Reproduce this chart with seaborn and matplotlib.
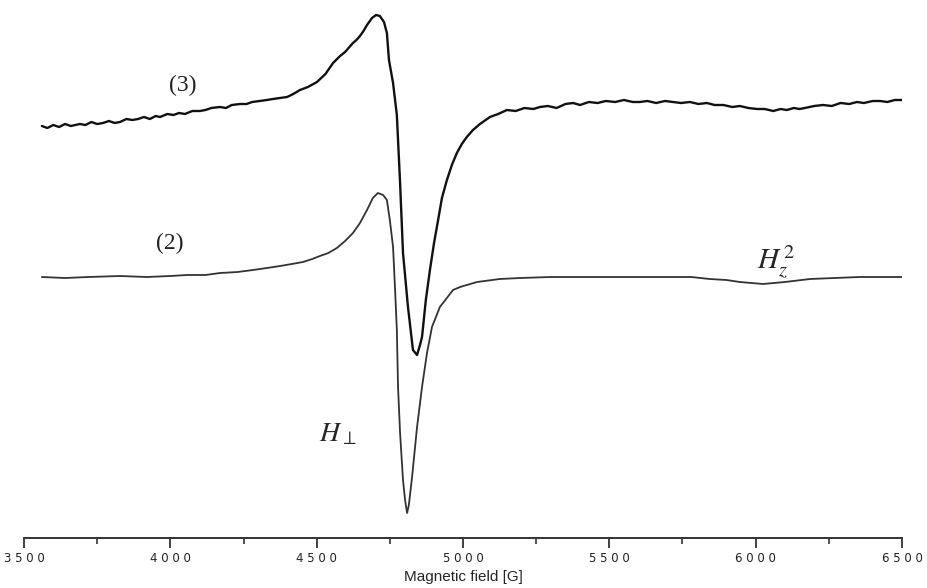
import matplotlib
matplotlib.use('Agg')
import matplotlib.pyplot as plt
import numpy as np
import pandas as pd
import seaborn as sns

# Field values [G] and signal (arbitrary units)
field_3 = [3561, 3580, 3600, 3620, 3640, 3660, 3691, 3710, 3730, 3750, 3770, 3790,
           3810, 3828, 3850, 3870, 3890, 3910, 3930, 3950, 3965, 3990, 4010, 4030,
           4050, 4075, 4101, 4120, 4140, 4170, 4190, 4210, 4238, 4260, 4280, 4306,
           4330, 4350, 4375, 4399, 4420, 4443, 4470, 4501, 4530, 4556, 4580, 4597,
           4612, 4624, 4636, 4648, 4660, 4672, 4689, 4703, 4716, 4730, 4740, 4747,
           4761, 4774, 4785, 4795, 4812, 4829, 4843, 4853, 4860, 4873, 4887, 4901,
           4915, 4928, 4945, 4962, 4979, 4996, 5013, 5034, 5058, 5092, 5120, 5150,
           5180, 5210, 5240, 5263, 5290, 5320, 5350, 5376, 5400, 5430, 5460, 5488,
           5520, 5550, 5580, 5604, 5630, 5660, 5690, 5717, 5745, 5775, 5805, 5833,
           5860, 5890, 5920, 5946, 5975, 6005, 6031, 6060, 6085, 6107, 6130, 6150,
           6168, 6200, 6230, 6260, 6290, 6320, 6346, 6370, 6400, 6425, 6450, 6475,
           6500]
signal_3 = [41.2, 41.0, 41.3, 41.1, 41.4, 41.2, 41.4, 41.3, 41.6, 41.4, 41.5, 41.7,
            41.5, 41.6, 41.9, 41.8, 41.9, 42.1, 41.9, 42.2, 42.1, 42.4, 42.3, 42.5,
            42.4, 42.7, 42.7, 42.8, 43.0, 43.1, 43.0, 43.3, 43.4, 43.4, 43.6, 43.7,
            43.8, 43.9, 44.0, 44.1, 44.4, 44.8, 45.1, 45.6, 46.4, 47.5, 48.2, 48.6,
            49.1, 49.5, 49.8, 50.2, 50.7, 51.3, 52.0, 52.3, 52.2, 51.6, 50.5, 47.8,
            45.5, 42.3, 35.5, 28.5, 23.1, 18.8, 18.3, 19.3, 20.1, 23.8, 26.8, 29.5,
            31.8, 34.0, 35.8, 37.3, 38.5, 39.4, 40.1, 40.8, 41.4, 42.1, 42.4, 42.8,
            42.7, 43.0, 42.9, 43.1, 43.2, 43.0, 43.4, 43.5, 43.3, 43.6, 43.5, 43.7,
            43.6, 43.8, 43.6, 43.6, 43.7, 43.5, 43.7, 43.6, 43.5, 43.6, 43.4, 43.5,
            43.3, 43.3, 43.1, 43.2, 43.0, 42.9, 42.9, 42.7, 42.9, 42.8, 43.0, 42.9,
            43.0, 43.2, 43.3, 43.2, 43.5, 43.4, 43.6, 43.5, 43.7, 43.7, 43.6, 43.8,
            43.8]

field_2 = [3561, 3640, 3720, 3828, 3920, 4000, 4057, 4120, 4170, 4230, 4282, 4330,
           4375, 4415, 4453, 4485, 4511, 4540, 4569, 4597, 4624, 4648, 4672, 4692,
           4709, 4727, 4740, 4750, 4761, 4768, 4774, 4778, 4785, 4795, 4802, 4809,
           4815, 4826, 4843, 4860, 4877, 4894, 4921, 4966, 4990, 5048, 5126, 5195,
           5300, 5400, 5500, 5600, 5700, 5780, 5843, 5900, 5946, 6025, 6100, 6186,
           6270, 6356, 6430, 6500]
signal_2 = [26.1, 26.0, 26.1, 26.2, 26.1, 26.2, 26.3, 26.3, 26.5, 26.6, 26.8, 27.0,
            27.2, 27.4, 27.6, 27.9, 28.2, 28.5, 29.0, 29.7, 30.5, 31.5, 32.8, 34.0,
            34.5, 34.3, 33.8, 31.8, 29.1, 24.8, 20.8, 15.1, 10.5, 5.8, 3.8, 2.5,
            3.3, 6.1, 11.1, 15.1, 18.5, 21.1, 23.1, 24.8, 25.1, 25.6, 25.9, 26.0,
            26.1, 26.1, 26.1, 26.1, 26.1, 26.1, 25.9, 25.8, 25.6, 25.4, 25.6, 25.9,
            26.0, 26.1, 26.1, 26.1]

tick_values = [3500, 4000, 4500, 5000, 5500, 6000, 6500]

df3 = pd.DataFrame({'field': field_3, 'signal': signal_3})
df2 = pd.DataFrame({'field': field_2, 'signal': signal_2})

sns.set_theme(style='white')
plt.rcParams['font.family'] = ['DejaVu Sans']
plt.rcParams['mathtext.fontset'] = 'stix'

fig = plt.figure(figsize=(9.27, 5.88), dpi=100)
ax = fig.add_axes([24 / 927, 1 - 538 / 588, 878 / 927, 538 / 588])

sns.lineplot(data=df3, x='field', y='signal', ax=ax, color='#111111',
             linewidth=1.7, estimator=None, sort=False)
sns.lineplot(data=df2, x='field', y='signal', ax=ax, color='#333333',
             linewidth=1.3, estimator=None, sort=False)

ax.set_xlim(3500, 6500)
ax.set_ylim(0, 53.8)

# Spectrum labels
ax.text(4043, 45.3, '(3)', fontsize=17, family='Liberation Serif',
        ha='center', va='center', color='#222222')
ax.text(3999, 29.5, '(2)', fontsize=17, family='Liberation Serif',
        ha='center', va='center', color='#222222')
ax.text(4573, 10.5, r'$H_{\perp}$', fontsize=20, ha='center', va='center')
ax.text(6070, 27.6, r'$H_z^{\,2}$', fontsize=21, ha='center', va='center')

# Axis styling: bottom axis only
for side in ['left', 'top', 'right']:
    ax.spines[side].set_visible(False)
ax.spines['bottom'].set_color('#333333')
ax.spines['bottom'].set_linewidth(1.4)
ax.set_yticks([])
ax.set_xticks(tick_values)
ax.set_xticks(np.arange(3750, 6500, 500), minor=True)
ax.set_xticklabels([' '.join(str(t)) for t in tick_values], fontsize=8.5,
                   color='#222222')
ax.tick_params(axis='x', which='major', direction='out', length=7, width=1.3,
               color='#333333', pad=3, bottom=True)
ax.tick_params(axis='x', which='minor', direction='out', length=4, width=1.2,
               color='#333333', bottom=True)
ax.set_xlabel('Magnetic field [G]', fontsize=11, family='Liberation Sans',
              labelpad=4)
ax.set_ylabel('')

fig.savefig('out.png', dpi=100)
